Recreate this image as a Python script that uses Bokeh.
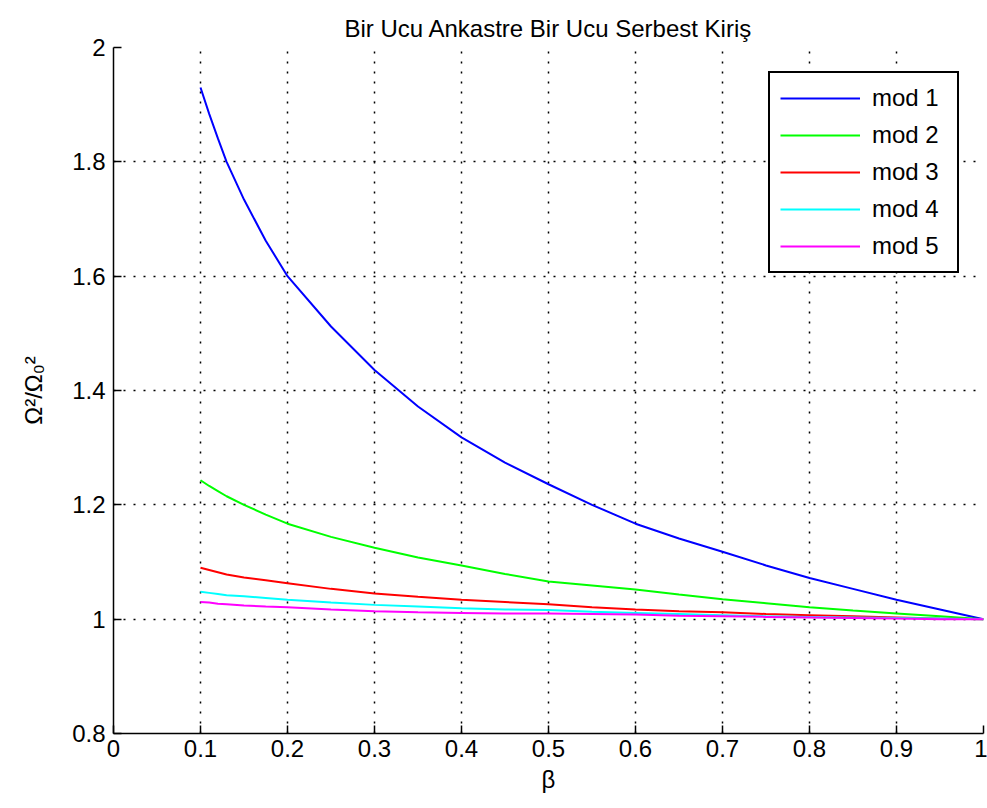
from bokeh.plotting import figure
from bokeh.models import FixedTicker, Range1d, Legend, LegendItem, Title
from bokeh.embed import file_html
from bokeh.resources import INLINE

# Data
beta = [0.10, 0.11, 0.12, 0.13, 0.15, 0.175, 0.20, 0.25, 0.30, 0.35, 0.40, 0.45, 0.50, 0.55, 0.60,
        0.65, 0.70, 0.75, 0.80, 0.85, 0.90, 0.95, 1.00]
mod1 = [1.930, 1.884, 1.841, 1.800, 1.734, 1.662, 1.600, 1.512, 1.436, 1.372, 1.318, 1.274, 1.236,
        1.200, 1.167, 1.141, 1.118, 1.094, 1.072, 1.053, 1.034, 1.017, 1.000]
mod2 = [1.243, 1.233, 1.224, 1.215, 1.200, 1.183, 1.167, 1.144, 1.125, 1.108, 1.094, 1.079, 1.066,
        1.059, 1.052, 1.043, 1.035, 1.028, 1.021, 1.015, 1.010, 1.005, 1.000]
mod3 = [1.090, 1.086, 1.082, 1.078, 1.073, 1.068, 1.063, 1.053, 1.045, 1.039, 1.034, 1.030, 1.026,
        1.021, 1.017, 1.014, 1.012, 1.009, 1.007, 1.005, 1.003, 1.001, 1.000]
mod4 = [1.048, 1.046, 1.044, 1.042, 1.040, 1.037, 1.034, 1.029, 1.025, 1.022, 1.019, 1.017, 1.016,
        1.013, 1.011, 1.009, 1.007, 1.005, 1.004, 1.003, 1.002, 1.001, 1.000]
mod5 = [1.030, 1.029, 1.027, 1.026, 1.024, 1.022, 1.021, 1.017, 1.014, 1.012, 1.011, 1.010, 1.010,
        1.009, 1.008, 1.006, 1.005, 1.004, 1.003, 1.002, 1.001, 1.000, 1.000]
series = [("mod 1", mod1, "#0000FF"), ("mod 2", mod2, "#00FF00"), ("mod 3", mod3, "#FF0000"),
          ("mod 4", mod4, "#00FFFF"), ("mod 5", mod5, "#FF00FF")]

x_ticks = [0, 0.1, 0.2, 0.3, 0.4, 0.5, 0.6, 0.7, 0.8, 0.9, 1.0]
x_tick_labels = ["0", "0.1", "0.2", "0.3", "0.4", "0.5", "0.6", "0.7", "0.8", "0.9", "1"]
y_ticks = [0.8, 1.0, 1.2, 1.4, 1.6, 1.8, 2.0]
y_tick_labels = ["0.8", "1", "1.2", "1.4", "1.6", "1.8", "2"]

FONT = "Liberation Sans"

p = figure(width=987, height=808, output_backend="svg", toolbar_location=None,
           x_range=Range1d(0, 1), y_range=Range1d(0.8, 2.0),
           min_border_left=113, min_border_right=4, min_border_top=47, min_border_bottom=75,
           background_fill_color="white", border_fill_color="white")
p.outline_line_color = None

p.title = Title(text="Bir Ucu Ankastre Bir Ucu Serbest Kiriş", align="center",
                text_font=FONT, text_font_size="24px", text_font_style="normal",
                text_color="black", standoff=12)

for ax in (p.xaxis[0], p.yaxis[0]):
    ax.axis_line_color = "black"
    ax.axis_line_width = 1.5
    ax.major_tick_in = 8
    ax.major_tick_out = 0
    ax.minor_tick_line_color = None
    ax.major_tick_line_color = "black"
    ax.major_tick_line_width = 1.5
    ax.major_label_text_font = FONT
    ax.major_label_text_font_size = "24px"
    ax.major_label_text_color = "black"
    ax.axis_label_text_font = FONT
    ax.axis_label_text_font_size = "24px"
    ax.axis_label_text_font_style = "normal"
    ax.axis_label_text_color = "black"

p.xaxis.ticker = FixedTicker(ticks=x_ticks)
p.xaxis.major_label_overrides = dict(zip(x_ticks, x_tick_labels))
p.yaxis.ticker = FixedTicker(ticks=y_ticks)
p.yaxis.major_label_overrides = dict(zip(y_ticks, y_tick_labels))
p.xaxis.axis_label = "β"
p.yaxis.axis_label = "Ω²/Ω₀²"
p.xaxis.major_label_standoff = 6
p.xaxis.axis_label_standoff = 6
p.yaxis.major_label_standoff = 8
p.yaxis.axis_label_standoff = 22

for g in (p.xgrid[0], p.ygrid[0]):
    g.grid_line_color = "black"
    g.grid_line_dash = "2 8"
    g.grid_line_width = 1.5
    g.grid_line_alpha = 1.0

items = []
for name, ys, col in series:
    r = p.line(beta, ys, line_color=col, line_width=2)
    items.append(LegendItem(label=name, renderers=[r]))

legend = Legend(items=items, location=(655, 460),
                glyph_width=80, glyph_height=30, label_height=30, label_width=75,
                label_standoff=12, spacing=7, padding=10, margin=0,
                label_text_font=FONT, label_text_font_size="24px", label_text_color="black",
                border_line_color="black", border_line_width=2, border_line_alpha=1.0,
                background_fill_color="white", background_fill_alpha=1.0)
p.add_layout(legend, "center")

open("out.html", "w").write(file_html(p, INLINE))
